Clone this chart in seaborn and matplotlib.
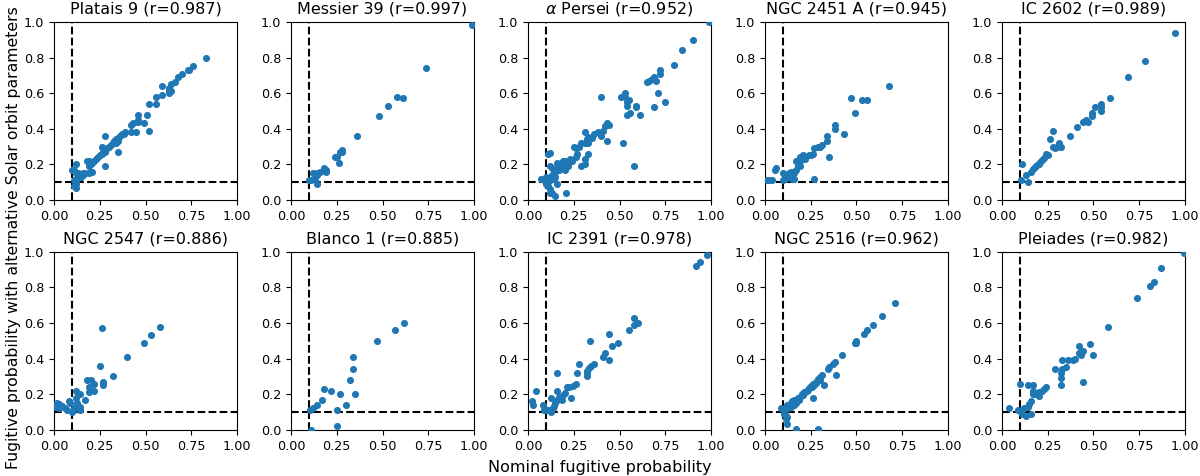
import matplotlib
matplotlib.use("Agg")
import matplotlib.pyplot as plt
import seaborn as sns
import pandas as pd

cluster_names = ["Platais 9", "Messier 39", r"$\alpha$ Persei", "NGC 2451 A", "IC 2602",
                 "NGC 2547", "Blanco 1", "IC 2391", "NGC 2516", "Pleiades"]
r_values = [0.987, 0.997, 0.952, 0.945, 0.989, 0.886, 0.885, 0.978, 0.962, 0.982]

platais9_x = [0.83, 0.76, 0.74, 0.73, 0.70, 0.68, 0.66, 0.64, 0.63, 0.63, 0.64, 0.63, 0.59, 0.59, 0.56, 0.56,
              0.52, 0.51, 0.46, 0.46, 0.46, 0.49, 0.43, 0.42, 0.45, 0.42, 0.52, 0.39, 0.38, 0.37, 0.36, 0.35,
              0.34, 0.33, 0.32, 0.31, 0.30, 0.34, 0.35, 0.35, 0.28, 0.28, 0.29, 0.28, 0.27, 0.26, 0.25, 0.26,
              0.27, 0.28, 0.24, 0.23, 0.22, 0.21, 0.20, 0.19, 0.18, 0.19, 0.20, 0.21, 0.19, 0.17, 0.16, 0.15,
              0.14, 0.13, 0.12, 0.11, 0.10, 0.12, 0.13, 0.12, 0.11, 0.12, 0.11, 0.12, 0.12, 0.14, 0.15, 0.16]
platais9_y = [0.80, 0.75, 0.73, 0.73, 0.71, 0.69, 0.66, 0.65, 0.63, 0.60, 0.61, 0.62, 0.64, 0.59, 0.58, 0.54,
              0.54, 0.48, 0.48, 0.45, 0.44, 0.43, 0.43, 0.42, 0.38, 0.38, 0.39, 0.38, 0.37, 0.37, 0.36, 0.35,
              0.34, 0.33, 0.32, 0.31, 0.30, 0.32, 0.33, 0.27, 0.36, 0.19, 0.29, 0.28, 0.27, 0.26, 0.25, 0.30,
              0.29, 0.27, 0.24, 0.23, 0.22, 0.21, 0.20, 0.22, 0.22, 0.19, 0.16, 0.16, 0.15, 0.15, 0.15, 0.14,
              0.14, 0.13, 0.20, 0.17, 0.17, 0.15, 0.15, 0.12, 0.11, 0.10, 0.08, 0.07, 0.09, 0.13, 0.13, 0.14]

messier39_x = [0.99, 0.74, 0.58, 0.61, 0.53, 0.48, 0.36, 0.28, 0.27, 0.28, 0.24, 0.25, 0.26, 0.18, 0.19,
               0.19, 0.16, 0.14, 0.12, 0.14, 0.13, 0.11, 0.10, 0.14]
messier39_y = [0.98, 0.74, 0.58, 0.57, 0.53, 0.47, 0.36, 0.28, 0.27, 0.27, 0.24, 0.24, 0.21, 0.18, 0.17,
               0.16, 0.16, 0.15, 0.15, 0.14, 0.12, 0.11, 0.11, 0.09]

alphaper_x = [0.99, 0.90, 0.84, 0.80, 0.72, 0.72, 0.70, 0.69, 0.68, 0.66, 0.65, 0.71, 0.75, 0.69, 0.61, 0.59,
              0.59, 0.56, 0.54, 0.54, 0.54, 0.53, 0.53, 0.51, 0.55, 0.40, 0.58, 0.52, 0.43, 0.44, 0.43, 0.42,
              0.41, 0.40, 0.38, 0.36, 0.35, 0.33, 0.33, 0.31, 0.31, 0.32, 0.29, 0.28, 0.26, 0.25, 0.33, 0.31,
              0.31, 0.29, 0.27, 0.26, 0.24, 0.22, 0.22, 0.20, 0.19, 0.18, 0.17, 0.19, 0.20, 0.16, 0.15, 0.14,
              0.13, 0.13, 0.14, 0.12, 0.11, 0.12, 0.12, 0.11, 0.13, 0.10, 0.07, 0.09, 0.10, 0.11, 0.12, 0.12,
              0.13, 0.15, 0.21, 0.16, 0.17, 0.15, 0.18, 0.23, 0.14, 0.16]
alphaper_y = [1.00, 0.90, 0.84, 0.76, 0.73, 0.71, 0.67, 0.69, 0.68, 0.67, 0.66, 0.60, 0.55, 0.52, 0.48, 0.53,
              0.52, 0.49, 0.48, 0.53, 0.55, 0.58, 0.60, 0.58, 0.56, 0.58, 0.19, 0.32, 0.33, 0.42, 0.43, 0.415,
              0.39, 0.36, 0.38, 0.37, 0.35, 0.355, 0.32, 0.38, 0.32, 0.34, 0.32, 0.30, 0.29, 0.30, 0.26, 0.23,
              0.205, 0.19, 0.26, 0.24, 0.22, 0.21, 0.19, 0.22, 0.22, 0.21, 0.20, 0.19, 0.17, 0.18, 0.16, 0.15,
              0.18, 0.14, 0.12, 0.11, 0.12, 0.19, 0.265, 0.26, 0.13, 0.13, 0.12, 0.11, 0.09, 0.08, 0.06, 0.04,
              0.04, 0.02, 0.04, 0.09, 0.17, 0.13, 0.20, 0.23, 0.16, 0.21]

ngc2451_x = [0.68, 0.47, 0.53, 0.56, 0.49, 0.38, 0.38, 0.43, 0.34, 0.34, 0.35, 0.31, 0.30, 0.29, 0.27, 0.26,
             0.25, 0.24, 0.22, 0.21, 0.19, 0.19, 0.18, 0.19, 0.17, 0.17, 0.16, 0.15, 0.15, 0.14, 0.13, 0.12,
             0.11, 0.10, 0.27, 0.06, 0.055, 0.04, 0.02, 0.01, 0.10, 0.14, 0.16]
ngc2451_y = [0.64, 0.57, 0.56, 0.56, 0.49, 0.42, 0.40, 0.37, 0.36, 0.33, 0.24, 0.31, 0.30, 0.295, 0.29, 0.26,
             0.255, 0.25, 0.23, 0.25, 0.24, 0.22, 0.19, 0.19, 0.22, 0.17, 0.15, 0.14, 0.12, 0.16, 0.15, 0.13,
             0.12, 0.15, 0.12, 0.18, 0.17, 0.11, 0.11, 0.11, 0.11, 0.13, 0.12]

ic2602_x = [0.945, 0.78, 0.69, 0.59, 0.54, 0.54, 0.54, 0.51, 0.49, 0.49, 0.47, 0.46, 0.44, 0.41, 0.37, 0.32,
            0.31, 0.30, 0.29, 0.28, 0.28, 0.26, 0.25, 0.24, 0.23, 0.22, 0.21, 0.20, 0.19, 0.18, 0.17, 0.16,
            0.13, 0.11, 0.105, 0.14]
ic2602_y = [0.94, 0.78, 0.69, 0.57, 0.54, 0.52, 0.50, 0.52, 0.49, 0.47, 0.44, 0.45, 0.44, 0.41, 0.36, 0.30,
            0.32, 0.30, 0.29, 0.30, 0.39, 0.34, 0.25, 0.26, 0.235, 0.225, 0.215, 0.205, 0.195, 0.185, 0.175, 0.16,
            0.14, 0.20, 0.11, 0.10]

ngc2547_x = [0.58, 0.53, 0.49, 0.40, 0.26, 0.25, 0.32, 0.27, 0.27, 0.22, 0.22, 0.20, 0.18, 0.19, 0.19, 0.17,
             0.14, 0.12, 0.12, 0.125, 0.14, 0.11, 0.10, 0.09, 0.08, 0.06, 0.045, 0.03, 0.015, 0.01, 0.025, 0.07,
             0.14, 0.13]
ngc2547_y = [0.58, 0.53, 0.49, 0.41, 0.57, 0.36, 0.30, 0.27, 0.25, 0.26, 0.22, 0.28, 0.28, 0.24, 0.21, 0.17,
             0.20, 0.22, 0.18, 0.15, 0.13, 0.12, 0.10, 0.15, 0.16, 0.12, 0.135, 0.145, 0.15, 0.13, 0.12, 0.11,
             0.11, 0.12]

blanco1_x = [0.62, 0.57, 0.47, 0.34, 0.34, 0.32, 0.35, 0.30, 0.27, 0.22, 0.18, 0.17, 0.14, 0.12, 0.105, 0.25,
             0.25, 0.11]
blanco1_y = [0.60, 0.56, 0.50, 0.41, 0.34, 0.28, 0.20, 0.14, 0.20, 0.22, 0.23, 0.17, 0.14, 0.12, 0.11, 0.11,
             0.02, 0.00]

ic2391_x = [0.98, 0.94, 0.92, 0.60, 0.58, 0.58, 0.55, 0.49, 0.46, 0.44, 0.44, 0.42, 0.41, 0.34, 0.36, 0.345,
            0.335, 0.32, 0.32, 0.32, 0.28, 0.27, 0.26, 0.245, 0.235, 0.225, 0.215, 0.16, 0.16, 0.20, 0.19,
            0.185, 0.17, 0.16, 0.15, 0.14, 0.135, 0.125, 0.115, 0.125, 0.10, 0.08, 0.09, 0.045, 0.02, 0.03]
ic2391_y = [0.98, 0.94, 0.92, 0.60, 0.63, 0.59, 0.56, 0.49, 0.47, 0.54, 0.39, 0.43, 0.41, 0.50, 0.37, 0.36,
            0.345, 0.33, 0.32, 0.30, 0.37, 0.32, 0.26, 0.245, 0.18, 0.24, 0.24, 0.32, 0.22, 0.205, 0.195,
            0.165, 0.185, 0.17, 0.15, 0.135, 0.12, 0.18, 0.11, 0.10, 0.11, 0.14, 0.11, 0.22, 0.16, 0.14]

ngc2516_x = [0.71, 0.64, 0.59, 0.56, 0.54, 0.50, 0.49, 0.50, 0.42, 0.38, 0.37, 0.35, 0.345, 0.39, 0.31, 0.30,
             0.32, 0.26, 0.29, 0.28, 0.265, 0.25, 0.24, 0.23, 0.215, 0.205, 0.19, 0.18, 0.16, 0.15, 0.14, 0.12,
             0.185, 0.17, 0.16, 0.14, 0.125, 0.085, 0.105, 0.105, 0.115, 0.12, 0.115, 0.12, 0.17, 0.29, 0.20,
             0.22, 0.235, 0.255, 0.27, 0.28, 0.30]
ngc2516_y = [0.71, 0.64, 0.59, 0.56, 0.54, 0.50, 0.49, 0.49, 0.42, 0.38, 0.37, 0.35, 0.34, 0.31, 0.31, 0.295,
             0.25, 0.18, 0.285, 0.27, 0.26, 0.245, 0.235, 0.22, 0.21, 0.195, 0.185, 0.18, 0.17, 0.16, 0.15, 0.14,
             0.165, 0.15, 0.14, 0.13, 0.12, 0.12, 0.11, 0.09, 0.075, 0.07, 0.06, 0.03, 0.005, 0.005, 0.20,
             0.21, 0.225, 0.24, 0.25, 0.265, 0.28]

pleiades_x = [0.995, 0.87, 0.83, 0.81, 0.74, 0.58, 0.50, 0.48, 0.44, 0.42, 0.43, 0.42, 0.44, 0.40, 0.39, 0.36,
              0.35, 0.33, 0.33, 0.32, 0.32, 0.32, 0.29, 0.24, 0.23, 0.22, 0.20, 0.20, 0.18, 0.17, 0.17, 0.17,
              0.14, 0.10, 0.16, 0.15, 0.14, 0.12, 0.11, 0.105, 0.09, 0.13, 0.11, 0.16, 0.04]
pleiades_y = [0.99, 0.91, 0.83, 0.81, 0.74, 0.58, 0.42, 0.48, 0.44, 0.43, 0.42, 0.47, 0.27, 0.40, 0.39, 0.39,
              0.35, 0.39, 0.34, 0.32, 0.29, 0.25, 0.34, 0.24, 0.23, 0.22, 0.21, 0.19, 0.20, 0.22, 0.20, 0.25,
              0.25, 0.26, 0.16, 0.145, 0.13, 0.12, 0.11, 0.10, 0.11, 0.075, 0.09, 0.09, 0.12]

xs = [platais9_x, messier39_x, alphaper_x, ngc2451_x, ic2602_x,
      ngc2547_x, blanco1_x, ic2391_x, ngc2516_x, pleiades_x]
ys = [platais9_y, messier39_y, alphaper_y, ngc2451_y, ic2602_y,
      ngc2547_y, blanco1_y, ic2391_y, ngc2516_y, pleiades_y]

x_ticks = [0.0, 0.25, 0.5, 0.75, 1.0]
x_ticklabels = ["0.00", "0.25", "0.50", "0.75", "1.00"]
y_ticks = [0.0, 0.2, 0.4, 0.6, 0.8, 1.0]
y_ticklabels = ["0.0", "0.2", "0.4", "0.6", "0.8", "1.0"]
threshold = 0.1

plt.rcParams["font.family"] = ["DejaVu Sans"]
fig, axes = plt.subplots(2, 5, figsize=(12, 4.76), dpi=100)
fig.subplots_adjust(left=0.045, right=0.9875, top=0.954, bottom=0.097, wspace=0.295, hspace=0.29)

for i, ax in enumerate(axes.flat):
    df = pd.DataFrame({"x": xs[i], "y": ys[i]})
    sns.scatterplot(data=df, x="x", y="y", ax=ax, color="#1f77b4", s=26, linewidth=0, zorder=3)
    ax.axvline(threshold, color="black", ls="--", lw=1.5, zorder=2)
    ax.axhline(threshold, color="black", ls="--", lw=1.5, zorder=2)
    ax.set_xlim(0, 1)
    ax.set_ylim(0, 1)
    ax.set_xticks(x_ticks)
    ax.set_xticklabels(x_ticklabels)
    ax.set_yticks(y_ticks)
    ax.set_yticklabels(y_ticklabels)
    ax.tick_params(labelsize=9.2, length=3.5)
    ax.set_xlabel("")
    ax.set_ylabel("")
    ax.set_title(f"{cluster_names[i]} (r={r_values[i]:.3f})", fontsize=11.5)

fig.text(0.5, 0.017, "Nominal fugitive probability", ha="center", va="center", fontsize=11.5)
fig.text(0.011, 0.5, "Fugitive probability with alternative Solar orbit parameters",
         ha="center", va="center", rotation=90, fontsize=11.3)

fig.savefig("out.png", dpi=100)
